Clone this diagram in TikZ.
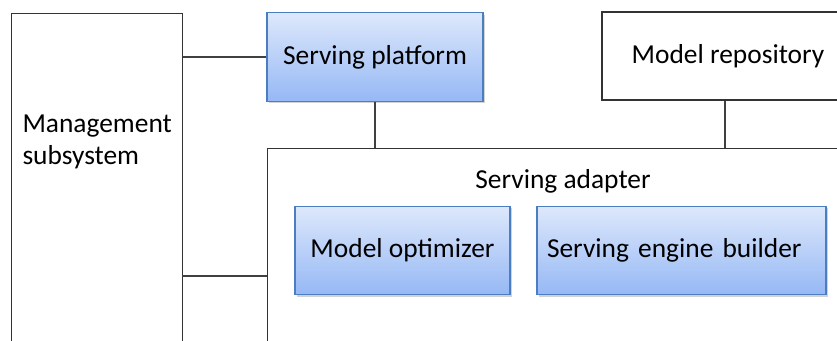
\documentclass[tikz,border=0pt]{standalone}
\usepackage{fontspec}
\setmainfont{Carlito}
\usepackage{xcolor}
\usetikzlibrary{shadows}

\definecolor{boxtop}{HTML}{DDE8FB}
\definecolor{boxbottom}{HTML}{96B8F5}
\definecolor{boxline}{HTML}{4A7EC0}

\begin{document}
\begin{tikzpicture}[
    font=\fontsize{15.6}{18.2}\selectfont,
    line width=0.6pt,
    bluebox/.style={
        draw=boxline,
        top color=boxtop,
        bottom color=boxbottom,
        drop shadow={
            shadow xshift=0.03cm,
            shadow yshift=-0.04cm,
            opacity=0.35
        },
        minimum height=1.77cm,
        inner sep=0.2cm
    },
    plainbox/.style={
        draw=black!80,
        fill=white
    },
    link/.style={
        draw=black!75
    }
]

\clip (0,0) rectangle (16.74,-6.82);

% Management subsystem (runs off the bottom)
\node[
    plainbox,
    anchor=north west,
    minimum width=3.42cm,
    minimum height=8cm
] (mgmt) at (0.22,-0.26) {};

\node[
    anchor=west,
    align=left,
    inner sep=0pt
] (mgmttext) at (0.44,-2.84) {
    Management\\
    subsystem
};

% Serving platform
\node[
    bluebox,
    minimum width=4.32cm
] (platform) at (7.50,-1.14) {
    Serving platform
};

% Model repository (runs off the right side)
\node[
    plainbox,
    minimum width=5.04cm,
    minimum height=1.76cm
] (repo) at (14.56,-1.12) {
    Model repository
};

% Serving adapter with its two parts
\node[
    plainbox,
    anchor=north west,
    minimum width=11.84cm,
    minimum height=6cm
] (adapter) at (5.34,-2.96) {};

\node (adaptertitle) at (11.26,-3.62) {
    Serving adapter
};

\node[
    bluebox,
    minimum width=4.3cm
] (optimizer) at (8.05,-5.01) {
    Model optimizer
};

\node[
    bluebox,
    text width=5.38cm,
    align=left
] (builder) at (13.63,-5.01) {
    Serving engine builder
};

% Links
\coordinate (lowlink) at (3.64,-5.52);

\draw[link] (platform.west) -- (platform.west -| mgmt.east);
\draw[link] (lowlink) -- (lowlink -| adapter.west);
\draw[link] (platform.south) -- (platform.south |- adapter.north);
\draw[link] ([xshift=-0.06cm]repo.south) -- ([xshift=-0.06cm]repo.south |- adapter.north);

\end{tikzpicture}
\end{document}
